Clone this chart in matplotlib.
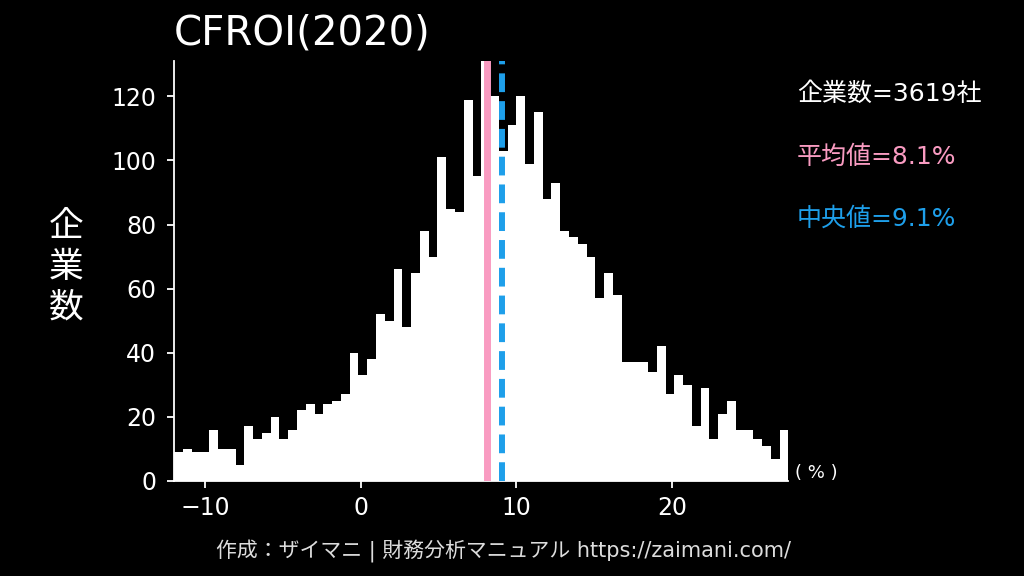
import numpy as np
import matplotlib
matplotlib.use("Agg")
import matplotlib.pyplot as plt

plt.rcParams['font.family'] = ['DejaVu Sans', 'Noto Sans CJK JP']
plt.rcParams['axes.unicode_minus'] = True
plt.rcParams['lines.scale_dashes'] = False

# ---- data ----
bin_start = -12.0
bin_end = 27.5
counts = [9, 10, 9, 9, 16, 10, 10, 5, 17, 13,
          15, 20, 13, 16, 22, 24, 21, 24, 25, 27,
          40, 33, 38, 52, 50, 66, 48, 65, 78, 70,
          101, 85, 84, 119, 95, 135, 120, 103, 111, 120,
          99, 115, 88, 93, 78, 76, 74, 70, 57, 65,
          58, 37, 37, 37, 34, 42, 27, 33, 30, 17,
          29, 13, 21, 25, 16, 16, 13, 11, 7, 16]
mean_val = 8.1
median_val = 9.1
n_companies = 3619
title = "CFROI(2020)"
xticks = [-10, 0, 10, 20]
yticks = [0, 20, 40, 60, 80, 100, 120]

PINK = '#F99BC1'
BLUE = '#1E9FEA'

edges = np.linspace(bin_start, bin_end, len(counts) + 1)
widths = np.diff(edges)

fig = plt.figure(figsize=(10.24, 5.76), dpi=100, facecolor='black')
ax = fig.add_axes([0.170, 0.165, 0.600, 0.729], facecolor='black')

ax.bar(edges[:-1], counts, width=widths, align='edge', color='white',
       edgecolor='none', linewidth=0)

ax.axvline(mean_val, color=PINK, linewidth=5.0, zorder=3)
ln = ax.axvline(median_val, color=BLUE, linewidth=4.3, zorder=3)
ln.set_dashes((13.5, 6.5))

ax.set_xlim(bin_start, bin_end)
ax.set_ylim(0, 131)
ax.set_xticks(xticks)
ax.set_yticks(yticks)

for s in ['top', 'right']:
    ax.spines[s].set_visible(False)
for s in ['left', 'bottom']:
    ax.spines[s].set_color('white')
    ax.spines[s].set_linewidth(1.3)

ax.tick_params(axis='both', colors='white', labelsize=17, length=5, width=1.3)
ax.tick_params(axis='y', pad=8)
ax.tick_params(axis='x', pad=6)

ax.set_title(title, loc='left', color='white', fontsize=29, pad=12, x=0.0)

fig.text(65.7 / 1024, 1 - 267 / 576, "企\n業\n数", color='white', fontsize=25,
         ha='center', va='center', linespacing=1.25)

ax.text(1.01, 0.02, "( % )", transform=ax.transAxes, color='white',
        fontsize=13, ha='left', va='center')

fig.text(797 / 1024, 1 - 94 / 576, f"企業数={n_companies}社", color='white',
         fontsize=18, ha='left', va='center')
fig.text(797 / 1024, 1 - 157 / 576, f"平均値={mean_val}%", color=PINK,
         fontsize=18, ha='left', va='center')
fig.text(797 / 1024, 1 - 219 / 576, f"中央値={median_val}%", color=BLUE,
         fontsize=18, ha='left', va='center')

fig.text(503 / 1024, 1 - 551 / 576,
         "作成：ザイマニ | 財務分析マニュアル https://zaimani.com/",
         color='#dddddd', fontsize=15, ha='center', va='center')

fig.savefig("out.png", dpi=100, facecolor='black')
